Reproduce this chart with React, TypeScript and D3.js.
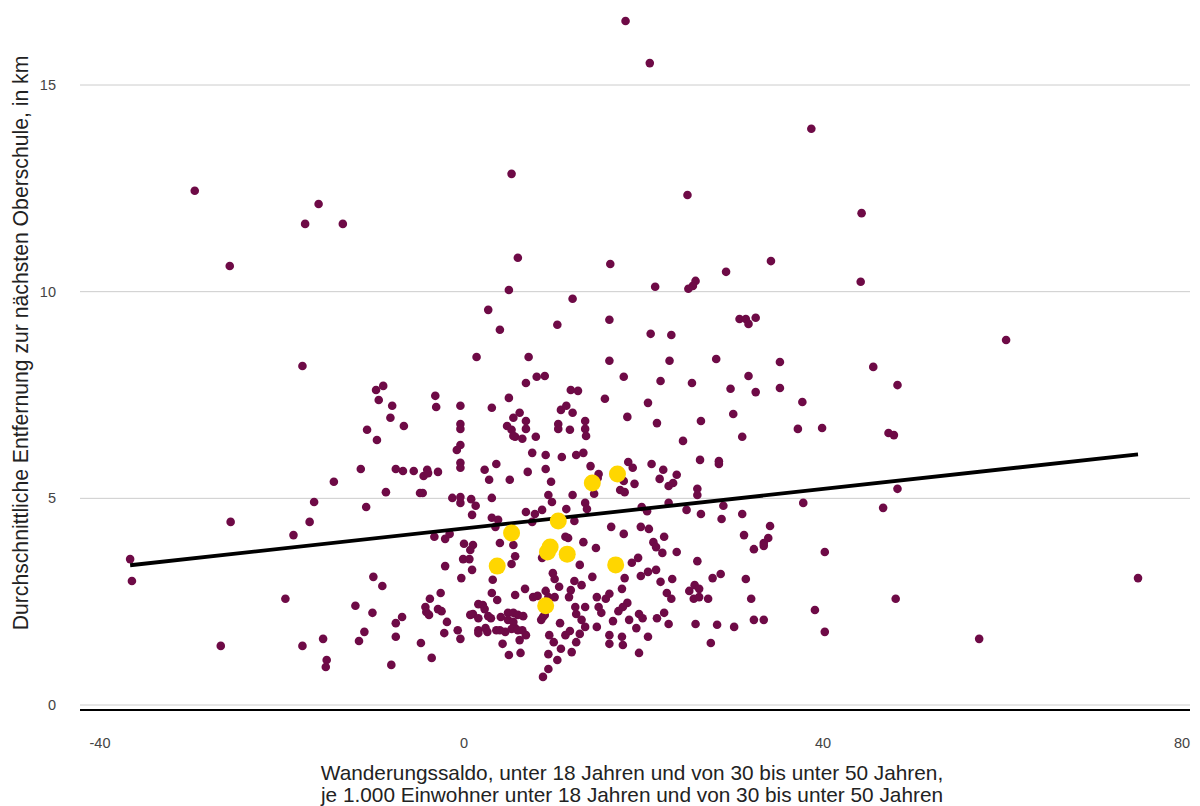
import React, { useEffect, useRef } from "react";
import * as d3 from "d3";

// Migration balance (x) vs. average distance to next Oberschule in km (y)
const otherPoints: [number, number][] = [
  [18.0, 16.55], [20.7, 15.53], [38.7, 13.94], [5.3, 12.85], [-30.0, 12.44], [-16.2, 12.12],
  [44.3, 11.9], [-17.7, 11.64], [-13.5, 11.64], [24.9, 12.34], [-26.1, 10.62], [6.0, 10.82],
  [34.2, 10.74], [16.3, 10.67], [29.2, 10.48], [25.8, 10.26], [25.5, 10.14], [25.0, 10.07],
  [21.3, 10.12], [5.0, 10.04], [44.2, 10.24], [12.1, 9.83], [2.7, 9.56], [4.0, 9.08],
  [10.4, 9.2], [16.2, 9.32], [20.8, 8.98], [23.1, 8.95], [30.7, 9.34], [31.4, 9.34],
  [31.7, 9.22], [32.5, 9.37], [60.4, 8.83], [45.6, 8.18], [48.3, 7.74], [47.3, 6.58],
  [47.9, 6.53], [48.3, 5.23], [46.7, 4.77], [75.1, 3.07], [48.1, 2.57], [57.4, 1.6],
  [-26.0, 4.43], [-37.2, 3.53], [-37.0, 3.0], [-27.1, 1.43], [-18.0, 8.2], [-9.8, 7.62],
  [-9.0, 7.72], [-9.5, 7.38], [-8.0, 7.24], [-8.2, 6.95], [-6.7, 6.75], [-10.8, 6.66],
  [-9.7, 6.41], [-3.2, 7.48], [-3.1, 7.21], [-0.4, 7.24], [-0.4, 6.8], [-0.4, 6.68],
  [-0.4, 6.29], [-0.8, 6.17], [-0.4, 5.86], [-0.4, 5.74], [1.4, 8.42], [-11.5, 5.71],
  [-7.6, 5.71], [-6.8, 5.66], [-5.6, 5.66], [-4.1, 5.69], [-4.5, 5.54], [-4.0, 5.61],
  [-2.9, 5.64], [-14.5, 5.4], [-8.7, 5.15], [-4.9, 5.13], [-4.6, 5.13], [-1.3, 5.01],
  [-0.4, 5.03], [-0.4, 4.89], [0.8, 4.98], [1.3, 4.82], [0.9, 4.6], [-16.7, 4.91],
  [-10.9, 4.79], [-17.2, 4.43], [-19.0, 4.11], [-3.3, 4.07], [-2.1, 4.02], [-1.6, 4.14],
  [0.0, 3.9], [1.0, 3.87], [0.7, 3.75], [-0.1, 3.53], [0.6, 3.53], [-2.1, 3.36],
  [0.9, 3.27], [-0.3, 3.07], [-10.1, 3.1], [-9.1, 2.88], [-19.9, 2.57], [-2.6, 2.71],
  [-3.8, 2.57], [-4.3, 2.37], [-4.2, 2.25], [-3.9, 2.18], [-2.9, 2.32], [-2.5, 2.27],
  [-1.9, 2.01], [-0.7, 1.81], [-0.4, 1.6], [-2.2, 1.74], [1.0, 2.2], [1.6, 2.44],
  [1.6, 2.1], [0.7, 2.18], [1.6, 1.81], [-12.1, 2.4], [-10.2, 2.23], [-7.6, 1.98],
  [-6.9, 2.13], [-11.1, 1.77], [-11.7, 1.55], [-7.6, 1.65], [-15.7, 1.6], [-18.0, 1.43],
  [-15.3, 1.09], [-15.4, 0.92], [-4.8, 1.5], [-3.6, 1.14], [-8.1, 0.97],
  [7.2, 8.42], [16.2, 8.33], [22.9, 8.33], [8.1, 7.94], [9.0, 7.96], [17.8, 7.94],
  [6.9, 7.79], [21.9, 7.84], [11.9, 7.62], [12.7, 7.6], [5.0, 7.43], [15.7, 7.41],
  [20.5, 7.31], [3.1, 7.19], [10.8, 7.14], [11.4, 7.24], [12.1, 7.07], [6.2, 7.07],
  [5.5, 6.95], [6.9, 6.87], [6.9, 6.68], [4.8, 6.75], [5.3, 6.66], [5.7, 6.49],
  [6.5, 6.44], [5.5, 6.51], [8.0, 6.49], [10.5, 6.8], [10.5, 6.68], [11.8, 6.66],
  [13.5, 6.87], [13.5, 6.68], [13.6, 6.51], [18.2, 6.97], [21.5, 6.82], [7.6, 6.1],
  [9.1, 6.05], [10.9, 6.0], [12.5, 6.05], [13.3, 6.1], [2.3, 5.69], [3.6, 5.83],
  [2.8, 5.45], [5.1, 5.45], [7.1, 5.64], [9.1, 5.71], [9.7, 5.4], [14.1, 5.78],
  [18.3, 5.88], [18.8, 5.74], [20.9, 5.83], [22.2, 5.69], [23.7, 5.57], [15.0, 5.59],
  [14.9, 5.49], [17.8, 5.42], [17.4, 5.2], [17.9, 5.15], [19.0, 5.35], [21.8, 5.47],
  [22.8, 5.3], [23.3, 5.37], [12.1, 5.08], [9.4, 5.08], [9.8, 4.91], [3.1, 5.01],
  [14.5, 5.11], [13.5, 4.89], [13.7, 4.74], [6.9, 4.67], [7.9, 4.62], [8.7, 4.72],
  [11.4, 4.74], [12.3, 4.45], [7.6, 4.43], [19.8, 4.79], [20.4, 4.69], [22.8, 4.89],
  [16.4, 4.31], [19.7, 4.31], [20.6, 4.26], [3.1, 4.53], [3.8, 4.48], [3.5, 4.31],
  [22.3, 4.07], [17.8, 4.14], [11.3, 4.07], [11.6, 4.04], [13.3, 3.94], [4.0, 3.92],
  [5.5, 3.87], [14.7, 3.8], [21.1, 3.94], [21.4, 3.82], [22.1, 3.68], [23.7, 3.7],
  [5.7, 3.6], [5.3, 3.41], [8.7, 3.56], [12.9, 3.39], [19.4, 3.56], [18.7, 3.44],
  [19.7, 3.12], [20.5, 3.22], [21.4, 3.27], [3.2, 3.03], [9.9, 3.19], [10.1, 3.05],
  [10.6, 2.86], [12.3, 3.0], [13.1, 2.9], [14.3, 3.1], [17.9, 3.07], [21.9, 2.98],
  [23.2, 3.05], [3.1, 2.71], [3.7, 2.54], [5.7, 2.66], [6.8, 2.81], [7.7, 2.61],
  [8.2, 2.64], [9.1, 2.76], [9.4, 2.61], [10.1, 2.61], [11.9, 2.78], [11.7, 2.61],
  [14.8, 2.61], [15.8, 2.57], [16.2, 2.69], [15.0, 2.37], [15.3, 2.23], [17.6, 2.81],
  [18.2, 2.47], [17.7, 2.37], [17.2, 2.27], [22.6, 2.71], [23.1, 2.57], [2.1, 2.42],
  [2.3, 2.32], [3.0, 2.1], [4.1, 2.13], [4.9, 2.23], [5.5, 2.23], [6.0, 2.18],
  [6.6, 2.15], [8.8, 2.13], [10.7, 1.98], [12.4, 2.37], [12.5, 2.2], [13.1, 2.06],
  [13.5, 1.89], [16.6, 2.03], [18.4, 2.06], [19.2, 1.86], [19.5, 2.2], [19.9, 2.1],
  [21.5, 2.1], [22.3, 2.23], [22.8, 1.96], [2.4, 1.86], [3.6, 1.81], [4.6, 1.77],
  [5.7, 1.86], [6.5, 1.81], [6.9, 1.69], [6.2, 1.57], [4.3, 1.48], [9.5, 1.69],
  [10.0, 1.52], [11.3, 1.69], [11.8, 1.79], [12.9, 1.72], [12.5, 1.52], [14.8, 1.89],
  [16.2, 1.69], [16.2, 1.48], [17.6, 1.65], [17.7, 1.45], [20.5, 1.65], [10.8, 1.36],
  [12.0, 1.28], [5.0, 1.21], [6.3, 1.26], [9.4, 1.23], [10.4, 1.09], [9.4, 0.87],
  [8.8, 0.68], [19.5, 1.26], [2.6, 1.77], [2.7, 2.15], [4.0, 1.81], [4.9, 2.06],
  [5.5, 2.01], [5.3, 1.84], [6.0, 1.81], [1.6, 1.74], [8.6, 2.06], [9.0, 2.18],
  [13.5, 2.37],
  [28.1, 8.37], [35.2, 8.3], [25.4, 7.79], [31.7, 7.96], [29.7, 7.65], [32.5, 7.57],
  [35.2, 7.67], [37.7, 7.33], [30.0, 7.04], [26.4, 6.87], [37.2, 6.68], [39.9, 6.7],
  [31.0, 6.49], [24.4, 6.39], [26.3, 5.93], [28.4, 5.9], [28.4, 5.83], [26.0, 5.23],
  [26.0, 5.08], [28.9, 4.82], [37.8, 4.89], [24.8, 4.72], [26.4, 4.62], [28.7, 4.5],
  [31.0, 4.62], [34.1, 4.33], [31.2, 4.11], [33.9, 4.04], [33.4, 3.92], [33.4, 3.85],
  [32.3, 3.77], [40.2, 3.7], [26.0, 3.48], [27.7, 3.07], [28.6, 3.17], [31.4, 3.05],
  [25.1, 2.76], [25.7, 2.9], [26.2, 2.81], [25.6, 2.57], [26.2, 2.61], [27.2, 2.57],
  [32.0, 2.57], [39.1, 2.3], [25.8, 1.96], [28.2, 1.94], [30.1, 1.89], [32.3, 2.06],
  [33.4, 2.06], [40.2, 1.77], [27.5, 1.5],
];

const highlightPoints: [number, number][] = [
  [14.3, 5.37], [17.1, 5.59], [5.3, 4.16], [10.5, 4.45], [9.6, 3.82],
  [9.3, 3.7], [11.5, 3.65], [3.7, 3.36], [16.9, 3.39], [9.1, 2.4],
];

const xTicks = [-40, 0, 40, 80];
const yTicks = [0, 5, 10, 15];
const trendIntercept = 4.27;
const trendSlope = 0.0239;

const xTitleLines = [
  "Wanderungssaldo, unter 18 Jahren und von 30 bis unter 50 Jahren,",
  "je 1.000 Einwohner unter 18 Jahren und von 30 bis unter 50 Jahren",
];
const yTitle = "Durchschnittliche Entfernung zur nächsten Oberschule, in km";

const W = 1200;
const H = 806;
const FONT = "'Liberation Sans', Arial, sans-serif";

export default function App() {
  const ref = useRef<SVGSVGElement>(null);

  useEffect(() => {
    document.body.style.margin = "0";
    const svg = d3.select(ref.current);
    svg.selectAll("*").remove();

    const x = d3.scaleLinear().domain([-40, 80]).range([105, 1182]);
    const y = d3.scaleLinear().domain([0, 15]).range([705, 85]);
    const left = 80, right = 1190;

    // gridlines
    svg.append("g").selectAll("line").data(yTicks).join("line")
      .attr("x1", left).attr("x2", right)
      .attr("y1", (d) => y(d)).attr("y2", (d) => y(d))
      .attr("stroke", "#cccccc").attr("stroke-width", 1);

    // baseline
    svg.append("line").attr("x1", left).attr("x2", right)
      .attr("y1", 710).attr("y2", 710)
      .attr("stroke", "#000").attr("stroke-width", 2);

    // y tick labels
    svg.append("g").selectAll("text").data(yTicks).join("text")
      .attr("x", 56).attr("y", (d) => y(d)).attr("dy", "0.35em")
      .attr("text-anchor", "end").attr("font-family", FONT).attr("font-size", 14.5)
      .attr("fill", "#444").text((d) => String(d));

    // x tick labels
    svg.append("g").selectAll("text").data(xTicks).join("text")
      .attr("x", (d) => x(d) - (d < 0 ? 5 : 0)).attr("y", 748)
      .attr("text-anchor", "middle").attr("font-family", FONT).attr("font-size", 14.5)
      .attr("fill", "#444").text((d) => String(d));

    // points
    svg.append("g").selectAll("circle").data(otherPoints).join("circle")
      .attr("cx", (d) => x(d[0])).attr("cy", (d) => y(d[1]))
      .attr("r", 4.3).attr("fill", "#6e0a46");

    // trend line
    const xs = otherPoints.concat(highlightPoints).map((d) => d[0]);
    const [xmin, xmax] = d3.extent(xs) as [number, number];
    const line = d3.line<number>().x((d) => x(d)).y((d) => y(trendIntercept + trendSlope * d));
    svg.append("path").attr("d", line([xmin, xmax]))
      .attr("fill", "none").attr("stroke", "#000").attr("stroke-width", 3.8);

    svg.append("g").selectAll("circle").data(highlightPoints).join("circle")
      .attr("cx", (d) => x(d[0])).attr("cy", (d) => y(d[1]))
      .attr("r", 8.5).attr("fill", "#ffd600");

    // axis titles
    svg.append("g").selectAll("text").data(xTitleLines).join("text")
      .attr("x", 632).attr("y", (_d, i) => 780 + i * 22)
      .attr("text-anchor", "middle").attr("font-family", FONT).attr("font-size", 20.8)
      .attr("fill", "#222").text((d) => d);

    svg.append("text")
      .attr("transform", `translate(28, 343) rotate(-90)`)
      .attr("text-anchor", "middle").attr("font-family", FONT).attr("font-size", 21.2)
      .attr("fill", "#222").text(yTitle);
  }, []);

  return (
    <svg ref={ref} width={W} height={H}
      style={{ position: "absolute", left: 0, top: 0, background: "#fff" }} />
  );
}
